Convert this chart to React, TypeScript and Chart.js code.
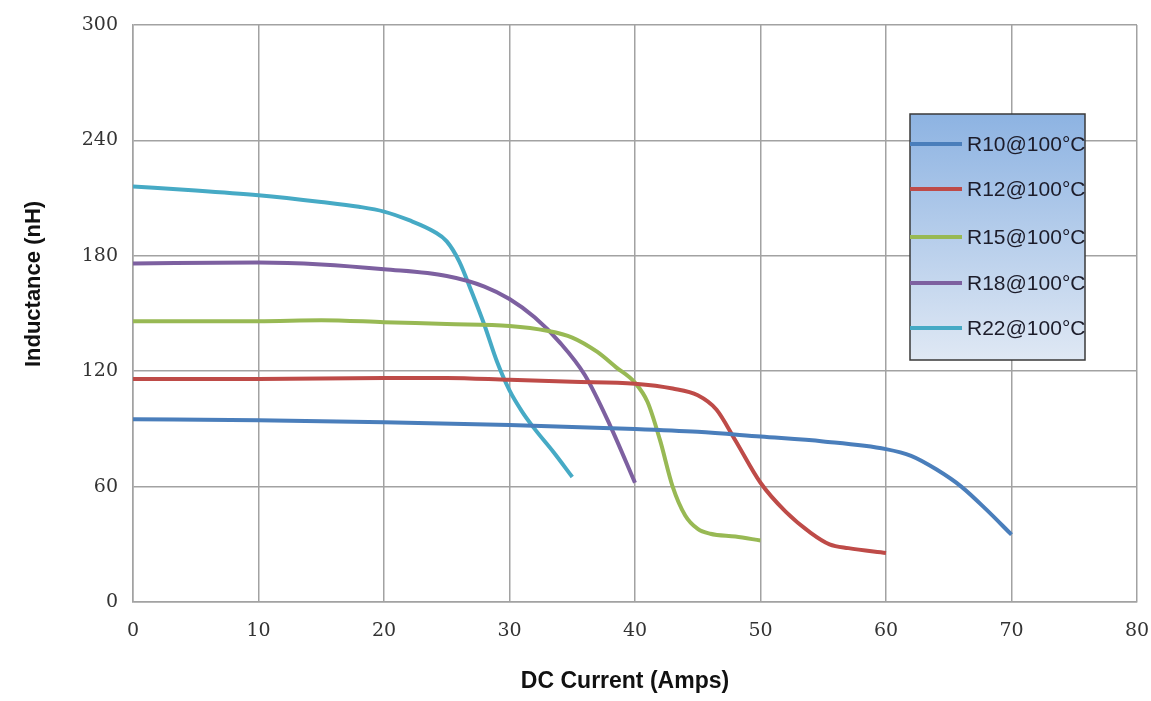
import React, { useEffect, useRef } from "react";
import { Chart, registerables } from "chart.js";

Chart.register(...registerables);

const seriesLabels = ["R10@100°C", "R12@100°C", "R15@100°C", "R18@100°C", "R22@100°C"];
const seriesColors = ["#4a7ebb", "#be4b48", "#98b954", "#7d60a0", "#46aac5"];

const r10X = [0, 10, 20, 30, 40, 45, 50, 55, 60, 62, 64, 66, 68, 70];
const r10Y = [95, 94.5, 93.5, 92, 90, 88.5, 86, 83.5, 79.5, 76, 69, 60, 48, 35];

const r12X = [0, 10, 20, 25, 30, 35, 40, 43, 45, 46.5, 48, 50, 52, 54, 55.5, 57, 60];
const r12Y = [116, 116, 116.5, 116.5, 115.5, 114.5, 113.5, 111, 107.5, 100, 84, 62, 47, 36, 30, 28, 25.5];

const r15X = [0, 10, 15, 20, 25, 30, 33, 35, 37, 38.5, 40, 41, 42, 43, 44, 45, 46, 48, 50];
const r15Y = [146, 146, 146.5, 145.5, 144.5, 143.5, 141, 137.5, 130, 122, 114, 104, 84, 60, 45, 38, 35.5, 34, 32];

const r18X = [0, 10, 15, 20, 25, 28, 30, 32, 34, 36, 38, 40];
const r18Y = [176, 176.5, 175.5, 173, 169.5, 164, 157.5, 148, 135, 118, 92, 62];

const r22X = [0, 5, 10, 15, 18, 20, 22, 24, 25, 26, 27, 28, 29, 30, 31, 32, 33.5, 35];
const r22Y = [216, 214, 211.5, 208, 205.5, 203, 198.5, 192.5, 187.5, 177, 161, 144, 125, 110, 99, 90, 78, 65];

const xTicks = [0, 10, 20, 30, 40, 50, 60, 70, 80];
const yTicks = [0, 60, 120, 180, 240, 300];

const xTitle = "DC Current (Amps)";
const yTitle = "Inductance (nH)";

const seriesXs = [r10X, r12X, r15X, r18X, r22X];
const seriesYs = [r10Y, r12Y, r15Y, r18Y, r22Y];

const customPlugin = {
  id: "customDecor",
  afterDatasetsDraw(chart: any) {
    const ctx = chart.ctx;
    const bx = 910, by = 114, bw = 175, bh = 246;
    ctx.save();
    const grad = ctx.createLinearGradient(0, by, 0, by + bh);
    grad.addColorStop(0, "#8db3e2");
    grad.addColorStop(1, "#dfe8f4");
    ctx.fillStyle = grad;
    ctx.fillRect(bx, by, bw, bh);
    ctx.strokeStyle = "#3a3a3a";
    ctx.lineWidth = 1.5;
    ctx.strokeRect(bx, by, bw, bh);
    const rows = [144, 189, 237, 283, 328];
    chart.data.datasets.forEach((ds: any, i: number) => {
      const y = rows[i];
      ctx.strokeStyle = ds.borderColor;
      ctx.lineWidth = 4;
      ctx.lineCap = "butt";
      ctx.beginPath();
      ctx.moveTo(910, y);
      ctx.lineTo(962, y);
      ctx.stroke();
      ctx.fillStyle = "#1c1c2a";
      ctx.font = "21px 'Liberation Sans', Arial, sans-serif";
      ctx.textAlign = "left";
      ctx.textBaseline = "middle";
      ctx.fillText(ds.label, 967, y + 1);
    });
    ctx.restore();
  },
  afterDraw(chart: any) {
    const ctx = chart.ctx;
    ctx.save();
    ctx.fillStyle = "#111111";
    ctx.font = "bold 23px 'Liberation Sans', Arial, sans-serif";
    ctx.textAlign = "center";
    ctx.textBaseline = "middle";
    ctx.fillText(xTitle, 625, 682);
    ctx.translate(34, 284);
    ctx.rotate(-Math.PI / 2);
    ctx.font = "bold 22px 'Liberation Sans', Arial, sans-serif";
    ctx.fillText(yTitle, 0, 0);
    ctx.restore();
  },
};

export default function App() {
  const ref = useRef<HTMLCanvasElement | null>(null);
  useEffect(() => {
    if (!ref.current) return;
    const datasets = seriesLabels.map((label, i) => ({
      label,
      data: seriesXs[i].map((x, j) => ({ x, y: seriesYs[i][j] })),
      borderColor: seriesColors[i],
      backgroundColor: seriesColors[i],
      borderWidth: 4,
      pointRadius: 0,
      fill: false,
      cubicInterpolationMode: "monotone" as const,
    }));
    const chart = new Chart(ref.current, {
      type: "line",
      data: { datasets },
      options: {
        animation: false,
        responsive: false,
        layout: { padding: { top: 25, right: 14, left: 0, bottom: 0 } },
        plugins: { legend: { display: false }, tooltip: { enabled: false } },
        scales: {
          x: {
            type: "linear",
            min: 0,
            max: 80,
            afterFit: (s: any) => { s.height = 99; s.paddingRight = 0; s.paddingLeft = 0; },
            afterBuildTicks: (s: any) => { s.ticks = xTicks.map((v) => ({ value: v })); },
            grid: { color: "#a2a2a2", lineWidth: 1.5, drawTicks: false },
            border: { color: "#a2a2a2", width: 1.5 },
            ticks: {
              padding: 18,
              color: "#333333",
              font: { family: "'DejaVu Serif', serif", size: 19 },
            },
          },
          y: {
            type: "linear",
            min: 0,
            max: 300,
            afterFit: (s: any) => { s.width = 133; s.paddingTop = 0; s.paddingBottom = 0; },
            afterBuildTicks: (s: any) => { s.ticks = yTicks.map((v) => ({ value: v })); },
            grid: { color: "#a2a2a2", lineWidth: 1.5, drawTicks: false },
            border: { color: "#a2a2a2", width: 1.5 },
            ticks: {
              padding: 15,
              color: "#333333",
              font: { family: "'DejaVu Serif', serif", size: 19 },
            },
          },
        },
      },
      plugins: [customPlugin],
    });
    return () => chart.destroy();
  }, []);
  return (
    <div style={{ position: "absolute", left: 0, top: 0, width: 1151, height: 701, background: "#fff" }}>
      <canvas ref={ref} width={1151} height={701} style={{ display: "block" }} />
    </div>
  );
}
